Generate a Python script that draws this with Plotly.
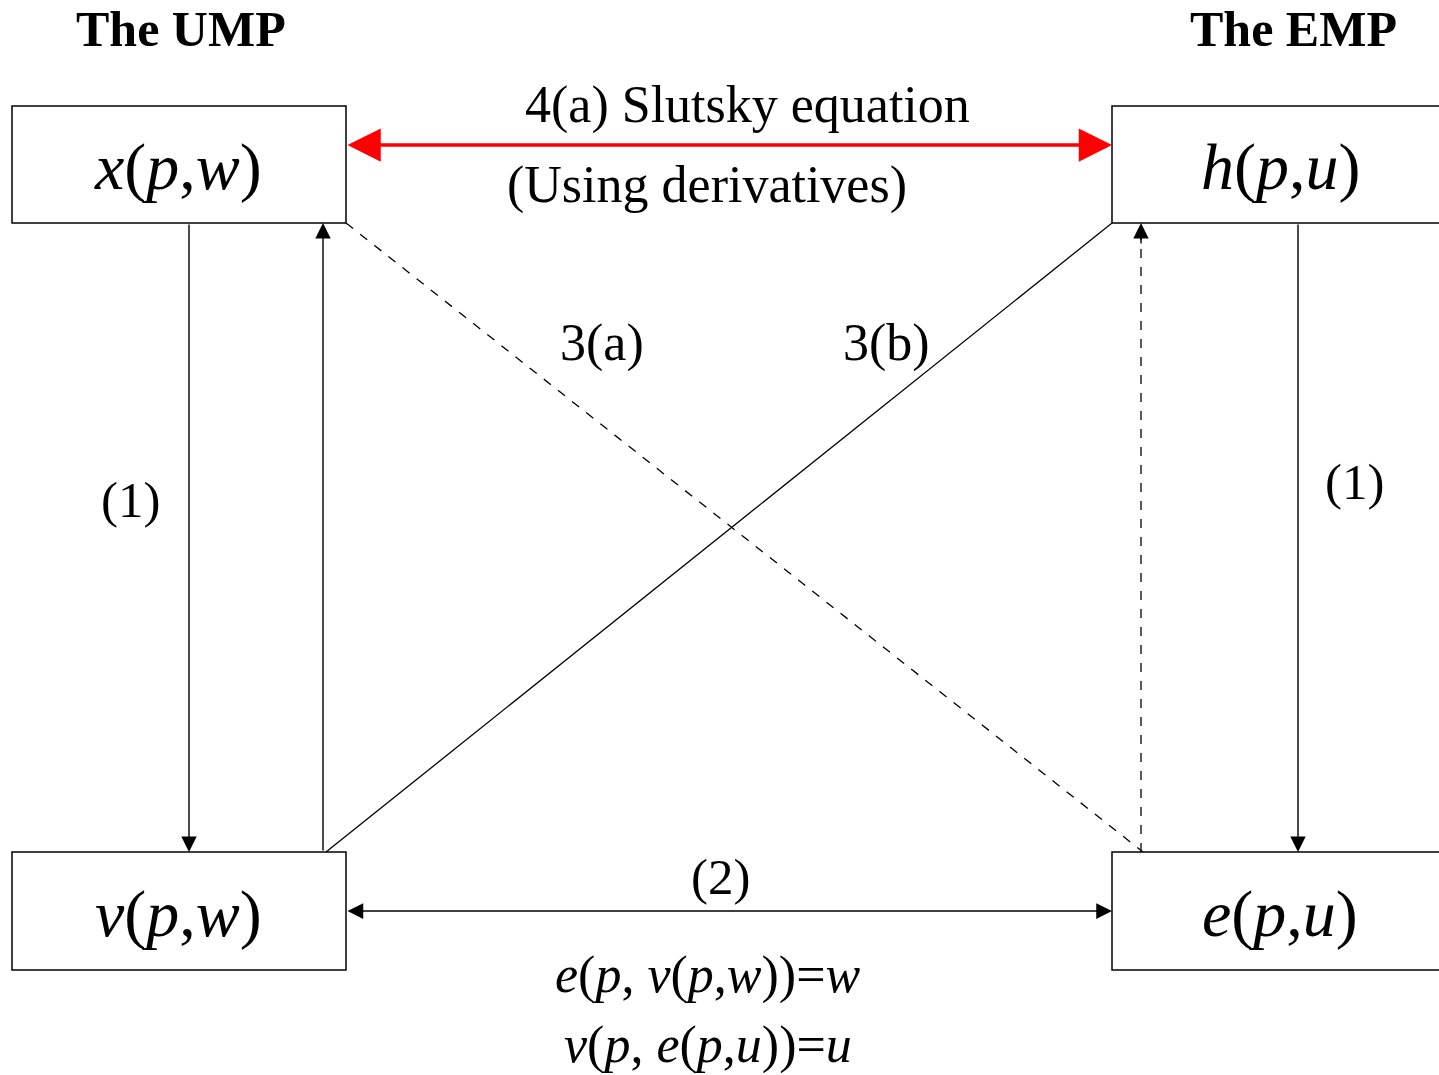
import plotly.graph_objects as go

W, H = 1439, 1075
FONT = "Liberation Serif"

# Boxes (diagram coordinates, y downward)
box_labels = ["<i>x</i>(<i>p</i>,<i>w</i>)", "<i>h</i>(<i>p</i>,<i>u</i>)",
              "<i>v</i>(<i>p</i>,<i>w</i>)", "<i>e</i>(<i>p</i>,<i>u</i>)"]
box_x0 = [12, 1112, 12, 1112]
box_x1 = [346, 1460, 346, 1460]
box_y0 = [106, 106, 852, 852]
box_y1 = [223, 223, 970, 970]
box_text_x = [178, 1280, 178, 1280]
box_text_y = [167, 167, 914, 914]

# Text labels
text_labels = ["<b>The UMP</b>", "<b>The EMP</b>", "4(a) Slutsky equation", "(Using derivatives)",
               "3(a)", "3(b)", "(1)", "(1)", "(2)",
               "<i>e</i>(<i>p</i>, <i>v</i>(<i>p</i>,<i>w</i>))=<i>w</i>",
               "<i>v</i>(<i>p</i>, <i>e</i>(<i>p</i>,<i>u</i>))=<i>u</i>"]
text_x = [181, 1293, 747, 707, 602, 886, 130, 1354, 720, 708, 708]
text_y = [29, 29, 105, 185, 343, 343, 500, 482, 877, 975, 1045]
text_size = [50, 50, 52, 52, 52, 52, 51, 51, 51, 52, 52]

fig = go.Figure()
fig.add_trace(go.Scatter(x=[0, W], y=[0, H], mode="markers", marker=dict(opacity=0),
                         hoverinfo="skip", showlegend=False))

for x0, x1, y0, y1 in zip(box_x0, box_x1, box_y0, box_y1):
    fig.add_shape(type="rect", x0=x0, x1=x1, y0=y0, y1=y1, xref="x", yref="y",
                  line=dict(color="black", width=1.5), fillcolor="white", layer="below")

for lab, x, y in zip(box_labels, box_text_x, box_text_y):
    fig.add_annotation(x=x, y=y, text=lab, showarrow=False, xref="x", yref="y",
                       font=dict(family=FONT, size=66, color="black"))

for lab, x, y, s in zip(text_labels, text_x, text_y, text_size):
    fig.add_annotation(x=x, y=y, text=lab, showarrow=False, xref="x", yref="y",
                       font=dict(family=FONT, size=s, color="black"))

# Plain lines (solid / dashed)
line_x0 = [346, 326, 1141]
line_y0 = [223, 852, 852]
line_x1 = [1143, 1112, 1141]
line_y1 = [852, 223, 236]
line_dash = ["dash", "solid", "dash"]
for x0, y0, x1, y1, d in zip(line_x0, line_y0, line_x1, line_y1, line_dash):
    fig.add_shape(type="line", x0=x0, y0=y0, x1=x1, y1=y1, xref="x", yref="y",
                  line=dict(color="black", width=1.3, dash=d))

# Single-headed arrows: tail (ax, ay) -> head (x, y)
arr_ax = [189, 323, 1298, 1141]
arr_ay = [223, 852, 223, 245]
arr_x = [189, 323, 1298, 1141]
arr_y = [852, 223, 852, 223]
for ax, ay, x, y in zip(arr_ax, arr_ay, arr_x, arr_y):
    fig.add_annotation(x=x, y=y, ax=ax, ay=ay, xref="x", yref="y", axref="x", ayref="y",
                       text="", showarrow=True, arrowhead=2, arrowsize=2.2, arrowwidth=1.4,
                       arrowcolor="black", standoff=0)

# Double-headed arrows
dbl_x0 = [346, 346]
dbl_x1 = [1112, 1112]
dbl_y = [145, 911]
dbl_color = ["#ff0000", "black"]
dbl_width = [3.5, 1.5]
dbl_size = [1.9, 2.1]
for x0, x1, y, c, w, s in zip(dbl_x0, dbl_x1, dbl_y, dbl_color, dbl_width, dbl_size):
    fig.add_annotation(x=x1, y=y, ax=x0, ay=y, xref="x", yref="y", axref="x", ayref="y",
                       text="", showarrow=True, arrowside="end+start",
                       arrowhead=2, arrowsize=s, arrowwidth=w, arrowcolor=c,
                       startarrowhead=2, startarrowsize=s, standoff=0, startstandoff=0)

fig.update_layout(width=W, height=H, margin=dict(l=0, r=0, t=0, b=0),
                  paper_bgcolor="white", plot_bgcolor="white", showlegend=False,
                  xaxis=dict(range=[0, W], visible=False, fixedrange=True),
                  yaxis=dict(range=[H, 0], visible=False, fixedrange=True))
fig.write_html("out.html", config={"displayModeBar": False},
               post_script="document.body.style.margin='0';document.body.style.overflow='hidden';")
